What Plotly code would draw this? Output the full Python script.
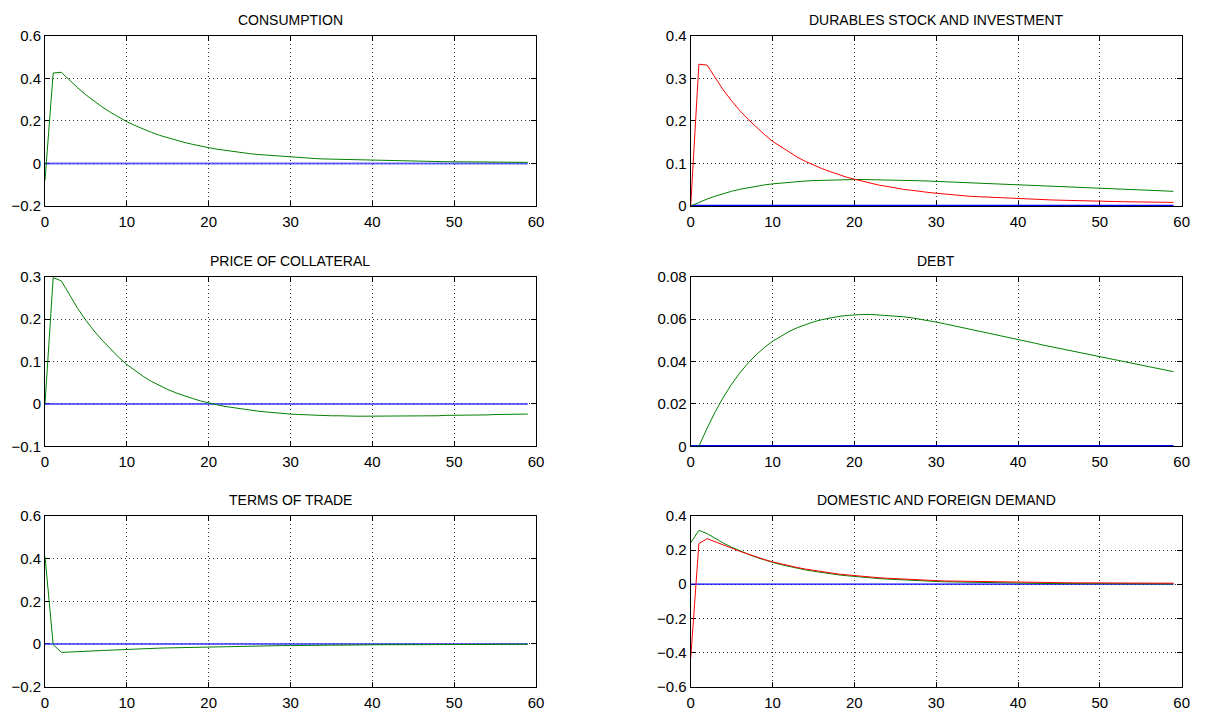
import plotly.graph_objects as go

periods = list(range(60))

consumption = [-0.08, 0.425, 0.428, 0.39, 0.355, 0.322, 0.292, 0.265, 0.24, 0.217,
               0.196, 0.178, 0.161, 0.146, 0.132, 0.12, 0.109, 0.099, 0.09, 0.081,
               0.074, 0.067, 0.061, 0.056, 0.051, 0.046, 0.042, 0.039, 0.035, 0.032,
               0.030, 0.027, 0.025, 0.023, 0.021, 0.020, 0.018, 0.017, 0.016, 0.015,
               0.014, 0.013, 0.012, 0.011, 0.011, 0.010, 0.0095, 0.009, 0.0085, 0.008,
               0.0078, 0.0074, 0.007, 0.0066, 0.0063, 0.006, 0.0057, 0.0054, 0.0052, 0.005]

durables_invest = [0, 0.333, 0.331, 0.300, 0.272, 0.247, 0.224, 0.204, 0.185, 0.168,
                   0.152, 0.139, 0.126, 0.115, 0.105, 0.096, 0.088, 0.081, 0.074, 0.068,
                   0.063, 0.058, 0.053, 0.049, 0.046, 0.042, 0.039, 0.037, 0.034, 0.032,
                   0.030, 0.028, 0.026, 0.025, 0.023, 0.022, 0.021, 0.020, 0.019, 0.018,
                   0.017, 0.016, 0.0155, 0.015, 0.0143, 0.0137, 0.013, 0.0126, 0.012, 0.0116,
                   0.0112, 0.0108, 0.0104, 0.010, 0.0097, 0.0094, 0.0091, 0.0088, 0.0086, 0.0084]

durables_stock = [0, 0.0085, 0.0163, 0.0232, 0.0293, 0.0346, 0.0392, 0.0432, 0.0466, 0.0495,
                  0.0520, 0.0541, 0.0559, 0.0574, 0.0587, 0.0597, 0.0605, 0.0612, 0.0617, 0.0620,
                  0.0622, 0.0622, 0.0620, 0.0618, 0.0615, 0.0611, 0.0606, 0.0600, 0.0593, 0.0586,
                  0.0578, 0.0570, 0.0562, 0.0553, 0.0545, 0.0536, 0.0528, 0.0520, 0.0511, 0.0503,
                  0.0495, 0.0487, 0.0478, 0.0470, 0.0462, 0.0454, 0.0446, 0.0438, 0.0430, 0.0422,
                  0.0414, 0.0406, 0.0398, 0.0391, 0.0383, 0.0375, 0.0368, 0.0360, 0.0352, 0.0345]

price_collateral = [0, 0.298, 0.290, 0.256, 0.225, 0.197, 0.172, 0.150, 0.129, 0.110,
                    0.093, 0.078, 0.065, 0.053, 0.043, 0.034, 0.026, 0.019, 0.013, 0.007,
                    0.002, -0.002, -0.006, -0.009, -0.012, -0.015, -0.017, -0.019, -0.021, -0.022,
                    -0.024, -0.025, -0.026, -0.027, -0.027, -0.028, -0.028, -0.029, -0.029, -0.029,
                    -0.029, -0.029, -0.029, -0.029, -0.029, -0.028, -0.028, -0.028, -0.028, -0.027,
                    -0.027, -0.027, -0.026, -0.026, -0.026, -0.025, -0.025, -0.025, -0.024, -0.024]

debt = [0, 0, 0.0085, 0.0163, 0.0232, 0.0293, 0.0346, 0.0392, 0.0432, 0.0466,
        0.0495, 0.0520, 0.0541, 0.0559, 0.0574, 0.0587, 0.0597, 0.0605, 0.0612, 0.0617,
        0.0620, 0.0622, 0.0622, 0.0620, 0.0618, 0.0615, 0.0611, 0.0606, 0.0600, 0.0593,
        0.0586, 0.0578, 0.0570, 0.0562, 0.0553, 0.0545, 0.0536, 0.0528, 0.0520, 0.0511,
        0.0503, 0.0495, 0.0487, 0.0478, 0.0470, 0.0462, 0.0454, 0.0446, 0.0438, 0.0430,
        0.0422, 0.0414, 0.0406, 0.0398, 0.0391, 0.0383, 0.0375, 0.0368, 0.0360, 0.0352]

terms_of_trade = [0.41, -0.003, -0.040, -0.039, -0.037, -0.035, -0.033, -0.031, -0.029, -0.027,
                  -0.025, -0.024, -0.022, -0.021, -0.020, -0.019, -0.018, -0.017, -0.016, -0.015,
                  -0.014, -0.013, -0.012, -0.012, -0.011, -0.010, -0.010, -0.009, -0.009, -0.008,
                  -0.008, -0.007, -0.007, -0.007, -0.006, -0.006, -0.006, -0.005, -0.005, -0.005,
                  -0.005, -0.004, -0.004, -0.004, -0.004, -0.004, -0.003, -0.003, -0.003, -0.003,
                  -0.003, -0.003, -0.003, -0.002, -0.002, -0.002, -0.002, -0.002, -0.002, -0.002]

domestic_demand = [0.242, 0.316, 0.297, 0.268, 0.241, 0.217, 0.195, 0.176, 0.158, 0.142,
                   0.128, 0.115, 0.104, 0.093, 0.084, 0.076, 0.068, 0.061, 0.055, 0.050,
                   0.045, 0.040, 0.036, 0.033, 0.030, 0.027, 0.024, 0.022, 0.019, 0.017,
                   0.016, 0.014, 0.013, 0.012, 0.010, 0.0095, 0.0085, 0.0077, 0.0070, 0.0063,
                   0.0057, 0.0052, 0.0047, 0.0043, 0.0039, 0.0036, 0.0033, 0.0031, 0.0029, 0.0027,
                   0.0025, 0.0024, 0.0023, 0.0022, 0.0021, 0.0020, 0.0019, 0.0018, 0.0017, 0.0016]

foreign_demand = [-0.435, 0.238, 0.267, 0.250, 0.231, 0.212, 0.193, 0.176, 0.160, 0.145,
                  0.131, 0.119, 0.108, 0.098, 0.089, 0.081, 0.073, 0.066, 0.060, 0.055,
                  0.050, 0.046, 0.042, 0.038, 0.035, 0.032, 0.029, 0.027, 0.025, 0.023,
                  0.021, 0.019, 0.018, 0.017, 0.016, 0.015, 0.014, 0.013, 0.012, 0.0115,
                  0.011, 0.0105, 0.010, 0.0095, 0.009, 0.0086, 0.0083, 0.008, 0.0077, 0.0074,
                  0.0071, 0.0069, 0.0067, 0.0065, 0.0063, 0.0062, 0.0061, 0.0060, 0.0059, 0.0058]

baseline = [0.0] * 60

titles = ["CONSUMPTION", "DURABLES STOCK AND INVESTMENT", "PRICE OF COLLATERAL",
          "DEBT", "TERMS OF TRADE", "DOMESTIC AND FOREIGN DEMAND"]
y_ranges = [[-0.2, 0.6], [0, 0.4], [-0.1, 0.3], [0, 0.08], [-0.2, 0.6], [-0.6, 0.4]]
y_ticks = [[-0.2, 0, 0.2, 0.4, 0.6], [0, 0.1, 0.2, 0.3, 0.4], [-0.1, 0, 0.1, 0.2, 0.3],
           [0, 0.02, 0.04, 0.06, 0.08], [-0.2, 0, 0.2, 0.4, 0.6], [-0.6, -0.4, -0.2, 0, 0.2, 0.4]]
y_ticktext = [["−0.2", "0", "0.2", "0.4", "0.6"], ["0", "0.1", "0.2", "0.3", "0.4"],
              ["−0.1", "0", "0.1", "0.2", "0.3"], ["0", "0.02", "0.04", "0.06", "0.08"],
              ["−0.2", "0", "0.2", "0.4", "0.6"], ["−0.6", "−0.4", "−0.2", "0", "0.2", "0.4"]]
x_ticks = [0, 10, 20, 30, 40, 50, 60]

GREEN = "#008000"
RED = "#ff0000"
BLUE = "#0000ff"
BLUE_SOFT = "rgba(40,40,255,0.7)"

# (values, colour, width)
panel_series = [
    [(baseline, BLUE_SOFT, 2), (consumption, GREEN, 1)],
    [(baseline, BLUE, 2.5), (durables_stock, GREEN, 1), (durables_invest, RED, 1)],
    [(baseline, BLUE_SOFT, 2), (price_collateral, GREEN, 1)],
    [(baseline, BLUE, 2.5), (debt, GREEN, 1)],
    [(baseline, BLUE_SOFT, 2), (terms_of_trade, GREEN, 1)],
    [(baseline, BLUE, 1.2), (domestic_demand, GREEN, 1), (foreign_demand, RED, 1)],
]

# page body has an 8px default margin; lay out in page pixels then offset
OFF = 8
W, H = 1209 - OFF, 711 - OFF
col_px = [(45, 536), (690.7, 1181.7)]
row_px = [(35.7, 206), (276.7, 446.3), (516, 686.5)]

FONT = "Liberation Sans, Arial, Helvetica, sans-serif"

fig = go.Figure()
layout = dict(
    width=W, height=H,
    margin=dict(l=0, r=0, t=0, b=0, autoexpand=False),
    paper_bgcolor="white", plot_bgcolor="white",
    showlegend=False,
    font=dict(family=FONT, size=15, color="black"),
)
annotations = []

for i in range(6):
    r, c = divmod(i, 2)
    sfx = "" if i == 0 else str(i + 1)
    xa, ya = "x" + sfx, "y" + sfx
    x0, x1 = col_px[c]
    top, bot = row_px[r]
    xdom = [(x0 - OFF) / W, (x1 - OFF) / W]
    ydom = [1 - (bot - OFF) / H, 1 - (top - OFF) / H]
    common = dict(
        showline=True, linecolor="black", linewidth=1, mirror="ticks",
        ticks="inside", ticklen=5, tickcolor="black", tickwidth=1,
        showgrid=True, gridcolor="#333333", gridwidth=1, griddash="1px,3px",
        zeroline=False, automargin=False, layer="below traces",
        tickfont=dict(family=FONT, size=15, color="black"),
    )
    layout["xaxis" + sfx] = dict(
        domain=xdom, range=[0, 60], anchor=ya, ticklabelstandoff=2,
        tickvals=x_ticks, ticktext=[str(v) for v in x_ticks], **common)
    layout["yaxis" + sfx] = dict(
        domain=ydom, range=y_ranges[i], anchor=xa,
        tickvals=y_ticks[i], ticktext=y_ticktext[i], **common)
    for vals, color, width in panel_series[i]:
        fig.add_trace(go.Scatter(
            x=periods, y=vals, mode="lines", xaxis=xa, yaxis=ya,
            line=dict(color=color, width=width),
            hoverinfo="skip"))
    annotations.append(dict(
        text=titles[i], xref="paper", yref="paper",
        x=(xdom[0] + xdom[1]) / 2, y=ydom[1], xanchor="center", yanchor="bottom",
        yshift=6, showarrow=False, font=dict(family=FONT, size=14, color="black")))

layout["annotations"] = annotations
fig.update_layout(**layout)
fig.write_html("out.html")
